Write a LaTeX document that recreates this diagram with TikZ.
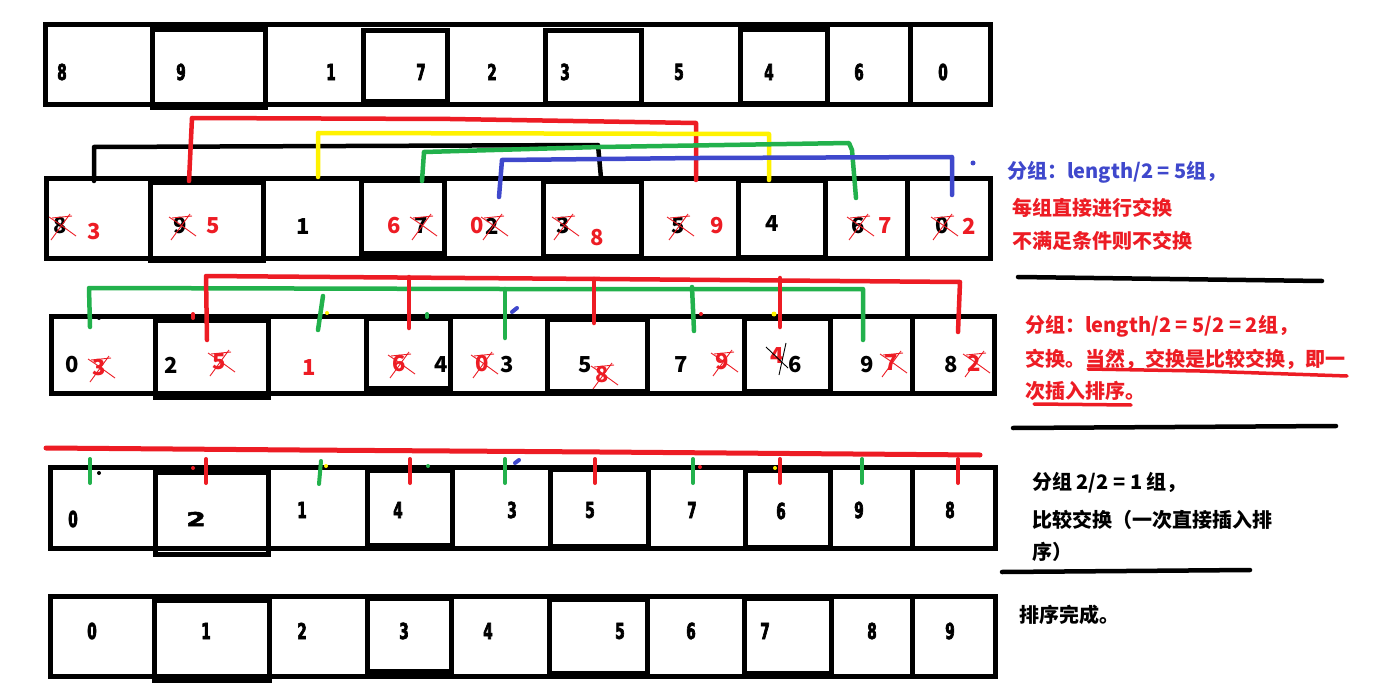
\documentclass[tikz,border=0pt]{standalone}
\usepackage{fontspec}
\newfontfamily\cjk{Noto Sans CJK SC}
\newfontfamily\nard[FakeStretch=0.62,FakeBold=3]{DejaVu Sans Bold}
\newfontfamily\wided[FakeStretch=1.5,FakeBold=3]{DejaVu Sans Bold}
\definecolor{pred}{HTML}{ED1C24}
\definecolor{pblue}{HTML}{3F48CC}
\definecolor{pgreen}{HTML}{22B14C}
\definecolor{pyellow}{HTML}{FFF200}
\tikzset{
  cell/.style={draw=black, line width=5pt},
  nd/.style={font=\nard\fontsize{22}{22}\selectfont, inner sep=0pt},
  yd/.style={font=\cjk\bfseries\fontsize{22}{22}\selectfont, inner sep=0pt},
  rd/.style={yd, text=pred},
  conn/.style={line width=4.5pt, line cap=round, line join=round},
  tick/.style={line width=4pt, line cap=round},
  scr/.style={draw=pred, line width=0.9pt},
  txt/.style={font=\cjk\bfseries\fontsize{20}{20}\selectfont, anchor=west, inner sep=0pt},
  rule/.style={line width=4.5pt, line cap=round},
  xx/.pic={\draw[scr] (-11,-9) -- (-2,-3) -- (16,10); \draw[scr] (-9,14) -- (10,-12); \draw[scr] (-8,-8) -- (12,-10);}
}
\begin{document}
\begin{tikzpicture}[x=1pt,y=-1pt]
\useasboundingbox (0,0) rectangle (1374,698);
\fill[white] (0,0) rectangle (1374,698);

% ---------- Row 1 ----------
\draw[cell] (45,25) rectangle (990,105);
\foreach \a/\b/\t/\u in {152/265/30/108, 363/447/31/102, 545/641/31/104, 740/827/30/104}
  \draw[cell] (\a,\t) rectangle (\b,\u);
\draw[cell] (910,25) -- (910,105);
\foreach \n/\x/\d in {0/62/8,1/181/9,2/331/1,3/421/7,4/492/2,5/565/3,6/679/5,7/769/4,8/859/6,9/943/0}
  \node[nd] (a\n) at (\x,72) {\d};

% ---------- Row 2 ----------
\draw[cell] (46,179) rectangle (990,258);
\foreach \a/\b/\t/\u in {150/263/183/260, 361/444/181/253, 543/641/182/256, 738/825/181/257}
  \draw[cell] (\a,\t) rectangle (\b,\u);
\draw[cell] (907,179) -- (907,258);
\foreach \n/\x/\y/\d in {0/60/226/8,1/180/226/9,2/303/227/1,3/421/226/7,4/492/226/2,5/563/226/3,6/678/226/5,7/772/224/4,8/858/226/6,9/942/226/0}
  \node[yd] (b\n) at (\x,\y) {\d};
\foreach \n/\x/\y/\d in {0/94/232/3,1/213/226/5,3/394/226/6,4/477/226/0,5/597/238/8,6/717/226/9,8/885/226/7,9/969/226/2}
  \node[rd] (rb\n) at (\x,\y) {\d};
\foreach \n in {0,1,3,4,5,6,8,9} \pic at (b\n) {xx};

% connectors row 2
\coordinate (k1) at (94,181);  \coordinate (k2) at (601,178);
\coordinate (r1) at (189,181); \coordinate (r2) at (696,180);
\coordinate (y1) at (318,177); \coordinate (y2) at (769,180);
\coordinate (g1) at (422,181); \coordinate (g2) at (856,198);
\coordinate (u1) at (499,197); \coordinate (u2) at (952,195);
\draw[conn,black] (k1) -- (94,147) -- (598,145) -- (k2);
\draw[conn,pred] (r1) -- (192,118) -- (450,119) -- (696,123) -- (r2);
\draw[conn,pyellow] (y1) -- (318,133) -- (769,134) -- (y2);
\draw[conn,pgreen] (g1) -- (424,152) -- (600,147) -- (849,143) -- (852,150) -- (g2);
\draw[conn,pblue] (u1) -- (502,160) -- (700,158) -- (952,157) -- (u2);
\fill[pblue] (973,163) circle (2.5);

% ---------- Row 3 ----------
\draw[cell] (51,316) rectangle (994,393);
\foreach \a/\b/\t/\u in {155/268/320/397, 366/450/318/388, 547/647/319/391, 744/830/318/391}
  \draw[cell] (\a,\t) rectangle (\b,\u);
\draw[cell] (912,316) -- (912,393);
\foreach \n/\x/\d in {0/72/0,1/171/2,3/441/4,4/507/3,5/585/5,6/681/7,7/795/6,8/867/9,9/951/8}
  \node[yd] (c\n) at (\x,365) {\d};
\foreach \n/\x/\y/\d in {0/99/368/3,1/219/362/5,2/309/368/1,3/399/364/6,4/482/364/0,5/602/375/8,6/722/362/9,7/777/356/4,8/891/363/7,9/974/363/2}
  \node[rd] (rc\n) at (\x,\y) {\d};
\foreach \n in {0,1,3,4,5,6,8,9} \pic at (rc\n) {xx};
\draw[black,line width=0.9pt] (766,347) -- (788,368);
\draw[black,line width=0.9pt] (786,343) -- (779,375);

% connectors row 3
\coordinate (g3a) at (90,327);  \coordinate (g3b) at (863,340);
\draw[conn,pgreen] (g3a) -- (89,288) -- (500,289) -- (863,289) -- (g3b);
\draw[conn,pgreen] (323,296) -- (318,330);
\draw[conn,pgreen] (505,289) -- (505,338);
\draw[conn,pgreen] (692,287) -- (694,331);
\coordinate (r3a) at (207,340); \coordinate (r3b) at (958,332);
\draw[conn,pred] (r3a) -- (206,276) -- (330,277) -- (600,279) -- (960,282) -- (r3b);
\draw[conn,pred] (409,277) -- (409,328);
\draw[conn,pred] (594,279) -- (594,323);
\draw[conn,pred] (780,278) -- (780,327);
% stray marks row 3
\draw[tick,pblue] (512,312) -- (517,308);
\fill[black] (99,318) circle (2);
\draw[tick,pred] (193,314) -- (193,318);
\fill[pyellow] (327,313) circle (2);
\draw[tick,pgreen] (427,314) -- (427,317);
\fill[pred] (701,314) circle (2);
\fill[pyellow] (774,314) circle (2.5);

% ---------- Row 4 ----------
\draw[line width=5pt,pred,line cap=round] (46,448) -- (300,450) -- (600,452) -- (980,455);
\draw[cell] (50,467) rectangle (995,548);
\foreach \a/\b/\t/\u in {155/268/472/554, 367/452/470/545, 550/648/469/546, 745/830/470/547}
  \draw[cell] (\a,\t) rectangle (\b,\u);
\draw[cell] (912,467) -- (912,548);
\foreach \x/\c in {90/pgreen,206/pred,410/pred,505/pgreen,595/pred,693/pgreen,780/pred,862/pgreen,958/pred}
  \draw[tick,\c] (\x,459) -- (\x,483);
\draw[tick,pgreen] (321,461) -- (319,484);
\fill[black] (99,473) circle (2);
\fill[pred] (193,468) circle (2);
\fill[pyellow] (326,466) circle (2);
\fill[pgreen] (428,466) circle (2);
\draw[tick,pblue] (515,463) -- (519,460);
\fill[pred] (700,467) circle (2);
\fill[pyellow] (775,468) circle (2);
\foreach \n/\x/\y/\d in {0/73/519/0,2/302/510/1,3/398/510/4,4/512/510/3,5/590/510/5,6/692/510/7,7/781/511/6,8/859/510/9,9/950/510/8}
  \node[nd] (d\n) at (\x,\y) {\d};
\node[inner sep=0pt,font=\wided\fontsize{19}{19}\selectfont] (d1) at (196,519) {2};

% ---------- Row 5 ----------
\draw[cell] (50,596) rectangle (995,676);
\foreach \a/\b/\t/\u in {154/269/600/680, 367/451/598/671, 549/647/599/673, 744/831/598/673}
  \draw[cell] (\a,\t) rectangle (\b,\u);
\draw[cell] (912,596) -- (912,676);
\foreach \n/\x/\d in {0/92/0,1/206/1,2/302/2,3/404/3,4/488/4,5/620/5,6/691/6,7/765/7,8/872/8,9/950/9}
  \node[nd] (e\n) at (\x,631) {\d};

% ---------- Notes ----------
\node[txt,text=pblue] (t1) at (1007,172) {分组：length/2 = 5组，};
\node[txt,text=pred] (t2) at (1012,208) {每组直接进行交换};
\node[txt,text=pred] (t3) at (1012,241) {不满足条件则不交换};
\draw[rule] (1018,277) -- (1322,281);
\node[txt,text=pred] (t4) at (1025,326) {分组：length/2 = 5/2 = 2组，};
\node[txt,text=pred] (t5) at (1025,359) {交换。当然，交换是比较交换，即一};
\draw[line width=3.5pt,pred,line cap=round] (1088,369) -- (1200,371) -- (1347,376);
\node[txt,text=pred] (t6) at (1025,391) {次插入排序。};
\draw[line width=3.5pt,pred,line cap=round] (1034,404) -- (1131,405);
\draw[rule] (1013,428) -- (1336,426);
\node[txt] (t7) at (1032,483) {分组 2/2 = 1 组，};
\node[txt] (t8) at (1032,520) {比较交换（一次直接插入排};
\node[txt] (t9) at (1032,552) {序）};
\draw[rule] (1002,572) -- (1250,570);
\node[txt] (t10) at (1019,615) {排序完成。};
\end{tikzpicture}
\end{document}
